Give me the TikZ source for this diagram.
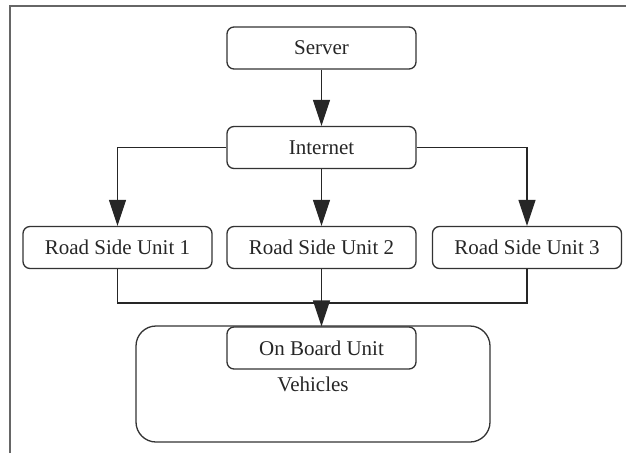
\documentclass[tikz,border=0pt]{standalone}
\usepackage{fontspec}
\setmainfont{Liberation Serif}
\usetikzlibrary{arrows.meta}

\begin{document}
	\begin{tikzpicture}[x=1pt, y=-1pt, line width=1.3pt,
			unit/.style={draw=black!80, rounded corners=7pt, minimum width=189pt, minimum height=42pt, inner sep=0pt, font=\fontsize{21}{24}\selectfont, text=black!85},
			vehicle/.style={draw=black!80, rounded corners=20pt, minimum width=354pt, minimum height=116pt, inner sep=0pt, font=\fontsize{21}{24}\selectfont, text=black!85},
			link/.style={draw=black!85},
			arr/.style={link, -{Triangle[length=26pt, width=17pt]}}]

		\useasboundingbox (0, 0) rectangle (626, 453);
		\draw[gray!80!black, line width=2pt] (10, 453) -- (10, 6) -- (626, 6);

		\node[vehicle] (vehicles) at (313, 384) {Vehicles};
		\node[unit] (server) at (321.5, 48) {Server};
		\node[unit] (internet) at (321.5, 147.5) {Internet};
		\node[unit] (rsu1) at (117.5, 247.5) {Road Side Unit 1};
		\node[unit] (rsu2) at (321.5, 247.5) {Road Side Unit 2};
		\node[unit] (rsu3) at (527, 247.5) {Road Side Unit 3};
		\node[unit, fill=white] (obu) at (321.5, 348) {On Board Unit};
		\coordinate (join) at (321.5, 303);

		\draw[arr] (server) -- (internet);
		\draw[arr] (internet.west) -| (rsu1.north);
		\draw[arr] (internet) -- (rsu2);
		\draw[arr] (internet.east) -| (rsu3.north);
		\draw[link] (rsu1.south) |- (join) -| (rsu3.south);
		\draw[arr] (rsu2) -- (obu);
	\end{tikzpicture}
\end{document}
